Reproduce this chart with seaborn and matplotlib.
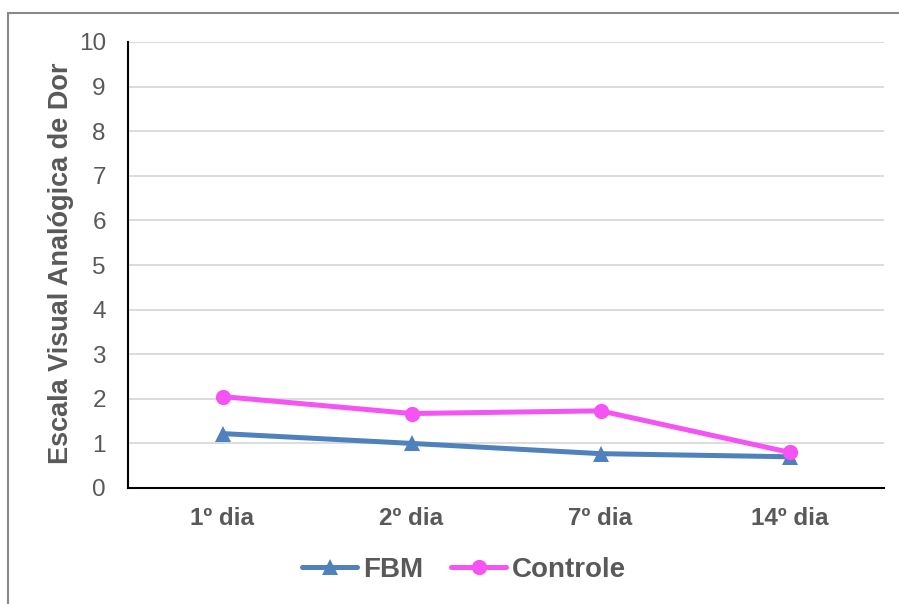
import matplotlib
matplotlib.use("Agg")
import matplotlib.pyplot as plt
import seaborn as sns
import pandas as pd
from matplotlib.patches import Rectangle
from matplotlib.lines import Line2D

categories = ["1º dia", "2º dia", "7º dia", "14º dia"]
fbm = [1.22, 1.00, 0.77, 0.70]
controle = [2.05, 1.67, 1.73, 0.80]
yticks = list(range(0, 11))

sns.set_theme(style="white")
plt.rcParams['font.family'] = ['Liberation Sans', 'DejaVu Sans']

df = pd.DataFrame({
    "dia": categories * 2,
    "valor": fbm + controle,
    "grupo": ["FBM"] * len(categories) + ["Controle"] * len(categories),
})

fig = plt.figure(figsize=(8.99, 6.04), dpi=100)
ax = fig.add_axes([128/899, 1-488/604, (884-128)/899, (488-42)/604])

palette = {"FBM": "#4F81BD", "Controle": "#F553F3"}
markers = {"FBM": "^", "Controle": "o"}
sns.lineplot(data=df, x="dia", y="valor", hue="grupo", style="grupo",
             palette=palette, markers=markers, dashes=False, linewidth=3.6,
             markersize=11, markeredgewidth=0, ax=ax, sort=False, legend=False, zorder=3)

ax.set_xlim(-0.5, 3.5)
ax.set_ylim(0, 10)
ax.set_yticks(yticks)
ax.set_yticklabels([str(t) for t in yticks], fontsize=17.5, color="#595959")
ax.set_xticks(range(len(categories)))
ax.set_xticklabels(categories, fontsize=17.5, fontweight="bold", color="#595959")
ax.tick_params(axis="y", length=0, pad=16)
ax.tick_params(axis="x", length=0, pad=14)
ax.grid(axis="y", color="#D9D9D9", linewidth=1.3, zorder=0)
ax.set_axisbelow(True)
for s in ["top", "right"]:
    ax.spines[s].set_visible(False)
for s in ["left", "bottom"]:
    ax.spines[s].set_color("black")
    ax.spines[s].set_linewidth(1.5)
ax.set_xlabel("")
ax.set_ylabel("Escala Visual Analógica de Dor", fontsize=19.5, fontweight="bold",
              color="#595959")
ax.yaxis.set_label_coords((74-128)/756, 0.505)

handles = [
    Line2D([], [], color=palette["FBM"], marker="^", markersize=11, linewidth=3.6, markeredgewidth=0),
    Line2D([], [], color=palette["Controle"], marker="o", markersize=11, linewidth=3.6, markeredgewidth=0),
]
leg = fig.legend(handles, ["FBM", "Controle"], loc="center", bbox_to_anchor=(464/899, 1-570/604),
                 ncol=2, frameon=False, handlelength=2.0, columnspacing=1.0, handletextpad=0.2,
                 prop={"family": "Liberation Sans", "weight": "bold", "size": 20})
for t in leg.get_texts():
    t.set_color("#595959")

fig.patches.append(Rectangle((8/899, -0.1), 1.2, 1-13/604+0.1, transform=fig.transFigure,
                             fill=False, edgecolor="#898989", linewidth=1.5, zorder=0))

fig.savefig("out.png", dpi=100)
